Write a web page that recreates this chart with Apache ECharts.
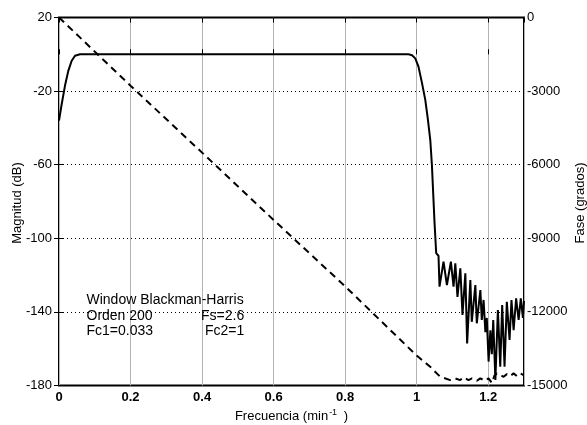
<!DOCTYPE html>
<html>
<head>
<meta charset="utf-8">
<script src="https://cdn.jsdelivr.net/npm/echarts@6/dist/echarts.min.js"></script>
<style>
html,body{margin:0;padding:0;background:#fff;}
#chart{width:587px;height:425px;}
</style>
</head>
<body>
<div id="chart"></div>
<script>
// Magnitude response (dB) vs frequency (min^-1)
const magFreq = [0, 0.0076, 0.0168, 0.026, 0.0355, 0.0448, 0.0587, 0.1, 0.5, 0.96, 0.977, 0.987, 0.996, 1.005, 1.015, 1.024, 1.031, 1.038, 1.0425, 1.046, 1.050, 1.0545, 1.061, 1.0638,
  1.075, 1.0845, 1.0956, 1.103, 1.108, 1.114, 1.122, 1.128, 1.136, 1.141, 1.150, 1.154, 1.164, 1.168, 1.178, 1.182, 1.187, 1.192, 1.196, 1.201, 1.206, 1.210, 1.214, 1.220, 1.227, 1.2336, 1.239, 1.2456, 1.252, 1.2596, 1.265, 1.271, 1.278, 1.285, 1.291, 1.297, 1.300];
const magDb = [-36, -27, -17, -9, -3.5, -0.8, 0, 0, 0, 0, 0, -0.5, -2.2, -6.7, -15.8, -24.8, -35, -46.6, -60, -75, -92, -108, -109.6, -126.3,
  -112.7, -125.4, -112.7, -126.3, -113.6, -131.8, -116.3, -141.7, -119, -157.1, -122.7, -145.4, -125.4, -146.2, -128.1, -144.4, -133.5, -151, -143.3, -167, -150, -163, -144.4, -177, -139, -169.8, -136.3, -169.8, -134.5, -155.3, -133.6, -149.9, -132.6, -144.4, -132.6, -143.3, -134];

// Phase response (grados)
const phaseFreq = [0, 0.2, 0.4, 0.6, 0.8, 1.0, 1.0378, 1.0657, 1.0937, 1.1077, 1.1217, 1.1309, 1.1449, 1.1544, 1.1684, 1.1776, 1.1916, 1.2008, 1.2103, 1.2168, 1.2243, 1.2336, 1.2428, 1.2523, 1.2615, 1.2708, 1.2803, 1.2895, 1.2988];
const phaseDeg = [0, -2780, -5508, -8252, -10960, -13780, -14237, -14645, -14779, -14710, -14779, -14669, -14779, -14710, -14808, -14710, -14808, -14710, -14900, -14616, -14506, -14575, -14645, -14535, -14616, -14506, -14616, -14506, -14575];

const magTicks = [-180, -140, -100, -60, -20, 20];

const annotations = [
  ['Window Blackman-Harris', ''],
  ['Orden 200', 'Fs=2.6'],
  ['Fc1=0.033', 'Fc2=1']
];
const axisTitles = ['Magnitud (dB)', 'Fase (grados)'];

const FONT = "'Liberation Sans', Arial, Helvetica, sans-serif";
const zip = (a, b) => a.map((v, i) => [v, b[i]]);

const chart = echarts.init(document.getElementById('chart'), null, {renderer: 'canvas'});

const graphics = [];
const rowY = [300, 316, 331.5];
const colX = [[86.5], [86.5, 201], [86.5, 205]];
annotations.forEach((row, r) => {
  row.forEach((txt, c) => {
    if (!txt) return;
    graphics.push({
      type: 'text',
      style: {text: txt, x: colX[r][c], y: rowY[r], font: '14px ' + FONT, fill: '#000', verticalAlign: 'middle', align: 'left'},
      z: 10
    });
  });
});
// rotated axis titles
[[17, axisTitles[0]], [580, axisTitles[1]]].forEach(([x, txt]) => {
  graphics.push({
    type: 'text', x: x, y: 203, rotation: Math.PI / 2,
    style: {text: txt, x: 0, y: 0, font: '13px ' + FONT, fill: '#000', align: 'center', verticalAlign: 'middle'},
    z: 10
  });
});

chart.setOption({
  animation: false,
  backgroundColor: '#fff',
  grid: {left: 59, right: 63, top: 17.5, bottom: 39.5, show: true, borderColor: '#000', borderWidth: 2, backgroundColor: 'transparent', containLabel: false, outerBoundsMode: 'none'},
  graphic: graphics,
  xAxis: [{
    type: 'value', min: 0, max: 1.3, interval: 0.2, position: 'bottom',
    axisLine: {show: false},
    axisTick: {show: true, inside: true, length: 5, lineStyle: {color: '#000', width: 1}},
    axisLabel: {color: '#000', fontSize: 13, fontWeight: 'bold', fontFamily: FONT, margin: 5, showMaxLabel: false,
      formatter: v => String(Math.round(v * 10) / 10)},
    splitLine: {show: true, lineStyle: {color: '#b4b4b4', width: 1, type: 'solid'}},
    name: '{a|Frecuencia (min}{s|-1}{a| )}',
    nameLocation: 'middle', nameGap: 23,
    nameTextStyle: {rich: {a: {fontSize: 13, fontFamily: FONT, color: '#000'}, s: {fontSize: 9, fontFamily: FONT, color: '#000', verticalAlign: 'top', padding: [0, 3, 6, 1]}}}
  }, {
    type: 'value', min: 0, max: 1.3, interval: 0.2, position: 'top',
    axisLine: {show: false},
    axisTick: {show: true, inside: true, length: 5, lineStyle: {color: '#000', width: 1}},
    axisLabel: {show: false},
    splitLine: {show: false}
  }],
  yAxis: [{
    type: 'value', min: -180, max: 20, position: 'left',
    axisLine: {show: false},
    axisTick: {show: true, inside: true, length: 5, customValues: magTicks, lineStyle: {color: '#000', width: 1}},
    axisLabel: {color: '#000', fontSize: 13, fontFamily: FONT, margin: 7, customValues: magTicks, formatter: v => String(v)},
    splitLine: {show: false}
  }, {
    type: 'value', min: -15000, max: 0, interval: 3000, position: 'right',
    axisLine: {show: false},
    axisTick: {show: true, inside: true, length: 5, lineStyle: {color: '#000', width: 1}},
    axisLabel: {color: '#000', fontSize: 13, fontFamily: FONT, margin: 3, formatter: v => String(v)},
    splitLine: {show: true, lineStyle: {color: '#000', width: 1, type: [1, 3]}}
  }],
  series: [{
    type: 'line', name: 'Magnitud', xAxisIndex: 0, yAxisIndex: 0,
    data: zip(magFreq, magDb), showSymbol: false, symbol: 'none',
    lineStyle: {color: '#000', width: 2}, z: 3
  }, {
    type: 'line', name: 'Fase', xAxisIndex: 0, yAxisIndex: 1,
    data: zip(phaseFreq, phaseDeg), showSymbol: false, symbol: 'none',
    lineStyle: {color: '#000', width: 2, type: [7, 5]}, z: 3
  }]
});
</script>
</body>
</html>
